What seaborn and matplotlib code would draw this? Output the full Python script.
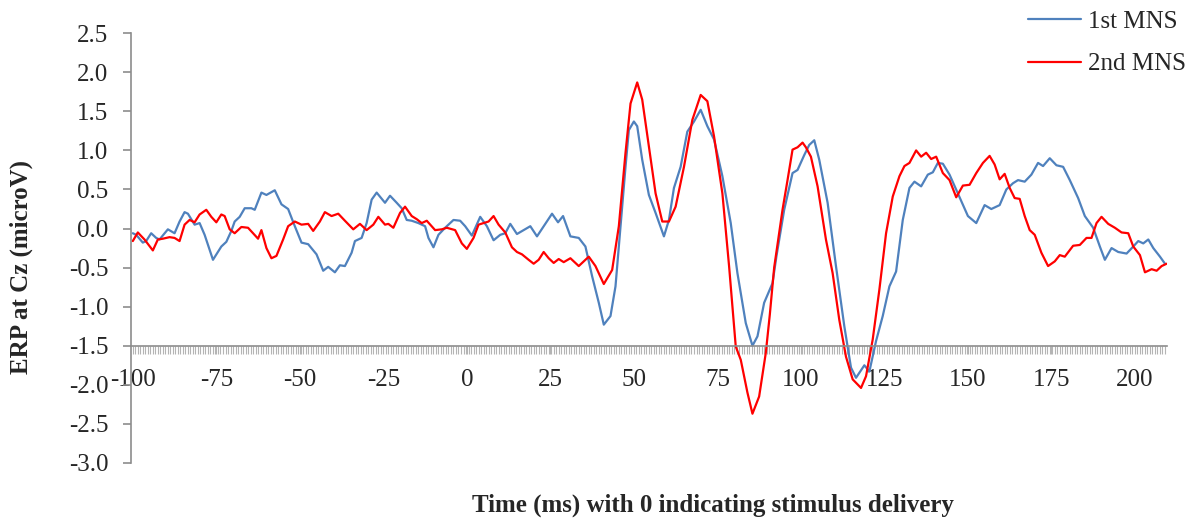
import numpy as np
import pandas as pd
import matplotlib
matplotlib.use('Agg')
import matplotlib.pyplot as plt
import seaborn as sns

# ERP traces (time in ms, amplitude in microV)
first_t = [-100, -99, -97, -96, -94.5, -93, -92, -89.5, -87.5, -86, -84.5, -83.5, -81.5, -80, -78.5,
           -76, -73.5, -72, -70.5, -69.5, -68, -66.5, -64.5, -63.5, -61.5, -60, -57.5, -55.5, -53.5,
           -51.5, -49.5, -47.5, -45, -43, -41.5, -39.5, -38, -36.5, -34.5, -33.5, -31.5, -30, -28.5,
           -27, -24.5, -23, -21, -19.5, -18, -16.5, -14.5, -12.5, -11.5, -10, -8.5, -6.5, -4, -2,
           -0.5, 1.5, 4, 6, 8, 10, 11.5, 13, 15, 17, 19, 21, 23, 25.5, 27.3, 28.8, 31, 33.5, 35.5,
           37.5, 39.5, 41, 43, 44.5, 46, 47.5, 48.5, 50, 51, 52.5, 54.5, 56.5, 59, 60.5, 62, 64, 66,
           68, 70, 72, 74, 76.5, 79, 81, 83.5, 85.5, 87, 89, 90.5, 91.5, 92.7, 95, 97.5, 99, 101,
           102.5, 104, 105.5, 108, 110.5, 113, 115, 116.5, 119, 120.5, 122.5, 124.5, 126.5, 128.5,
           130.5, 132.5, 134, 136, 138, 139.5, 141, 142.5, 144.5, 147, 150, 152.5, 155, 157, 159.5,
           161.5, 163.5, 165, 167, 169, 171, 172.5, 174.5, 176.5, 178.5, 180.5, 183, 185, 187.5,
           189.5, 191, 193, 195, 197.5, 199.5, 201, 202.5, 204, 205.5, 207.5, 209]
first_v = [-0.06, -0.08, -0.18, -0.16, -0.06, -0.12, -0.14, -0.01, -0.06, 0.09, 0.21, 0.19, 0.05, 0.07, -0.08,
           -0.40, -0.23, -0.17, -0.03, 0.09, 0.15, 0.26, 0.26, 0.24, 0.46, 0.43, 0.49, 0.31, 0.25,
           0.03, -0.18, -0.20, -0.33, -0.54, -0.49, -0.56, -0.47, -0.48, -0.31, -0.16, -0.12, 0.07, 0.37,
           0.46, 0.33, 0.42, 0.33, 0.26, 0.11, 0.10, 0.07, 0.03, -0.12, -0.24, -0.08, 0.01, 0.11, 0.10,
           0.03, -0.09, 0.15, 0.03, -0.15, -0.08, -0.06, 0.06, -0.07, -0.02, 0.03, -0.10, 0.03, 0.19, 0.08, 0.16, -0.10, -0.12, -0.23,
           -0.61, -0.95, -1.23, -1.12, -0.74, 0.03, 0.79, 1.26, 1.37, 1.31, 0.88, 0.43, 0.20, -0.10, 0.11, 0.52, 0.79, 1.24,
           1.37, 1.52, 1.31, 1.14, 0.67, 0.07, -0.57, -1.21, -1.50, -1.38, -0.95, -0.80, -0.70, -0.35, 0.24, 0.71, 0.75, 0.94,
           1.07, 1.13, 0.88, 0.33, -0.48, -1.25, -1.78, -1.91, -1.75, -1.83, -1.44, -1.12, -0.74, -0.55,
           0.11, 0.52, 0.60, 0.54, 0.69, 0.72, 0.84, 0.83, 0.69, 0.45, 0.16, 0.07, 0.30, 0.25, 0.30,
           0.50, 0.58, 0.62, 0.60, 0.69, 0.84, 0.80, 0.90, 0.81, 0.79, 0.62, 0.39, 0.16, 0.01,
           -0.23, -0.40, -0.25, -0.30, -0.32, -0.23, -0.16, -0.19, -0.14, -0.25, -0.36, -0.45]

second_t = [-100, -98.5, -96.5, -94, -92.5, -91, -89, -87.5, -86, -84.5, -83, -81.5, -80, -78, -76.5,
            -75, -73.5, -72.5, -71, -69.5, -67.5, -65.5, -64, -62.5, -61.5, -60, -58.5, -57, -55,
            -53.5, -51.5, -49.5, -47.5, -46, -44, -42.5, -40.5, -38.5, -36.5, -34, -32, -30, -28,
            -26.5, -24.5, -23.5, -22, -20, -18.5, -16.5, -15, -13.5, -12, -9.5, -7.5, -6, -3.5, -1.5,
            0, 2, 3.5, 5, 6.5, 8, 9.5, 11.5, 13.5, 15, 16.5, 18.5, 20, 21.5, 23, 24.5, 26, 27.5, 29,
            31, 33.5, 36.5, 38.5, 41, 43.5, 45.5, 47.5, 49, 51, 52.5, 54.5, 56.5, 58.5, 60.5, 62.5,
            65, 67.5, 70, 72, 74, 76.5, 78.5, 80.5, 82, 84, 85.5, 87.5, 89.5, 90.7, 92, 94.5, 96,
            97.5, 99, 100.5, 101.5, 103, 105, 107.5, 109.5, 111.5, 113.5, 115.5, 118, 119.5, 121.5,
            123.5, 125.5, 127.5, 129.5, 131, 132.5, 134.5, 136, 137.5, 139, 140.5, 142.5, 144.5,
            146.5, 148.5, 150.5, 152.5, 154.5, 156.5, 158, 159.5, 161, 162.5, 164, 165.5, 167,
            168.5, 170, 172, 174, 176, 177.5, 179, 181.5, 183.5, 185.5, 187, 188.5, 190, 192, 194,
            196, 198, 199.5, 201.5, 203, 205, 206.5, 208, 209.5]
second_v = [-0.16, -0.05, -0.14, -0.28, -0.14, -0.13, -0.11, -0.12, -0.16, 0.05, 0.11, 0.08, 0.18, 0.24, 0.15,
            0.08, 0.18, 0.16, -0.01, -0.06, 0.02, 0.01, -0.06, -0.13, -0.02, -0.25, -0.38, -0.35, -0.14,
            0.03, 0.09, 0.05, 0.06, -0.03, 0.09, 0.21, 0.16, 0.19, 0.10, -0.01, 0.06, -0.02, 0.05,
            0.15, 0.05, 0.06, 0.01, 0.20, 0.28, 0.16, 0.12, 0.07, 0.10, -0.02, -0.01, 0.01, -0.02, -0.19,
            -0.26, -0.12, 0.05, 0.07, 0.09, 0.16, 0.05, -0.05, -0.24, -0.30, -0.33, -0.40, -0.45, -0.40, -0.30, -0.38, -0.44, -0.39, -0.43,
            -0.38, -0.48, -0.36, -0.48, -0.71, -0.53, 0.03, 0.97, 1.60, 1.87, 1.65, 1.05, 0.45, 0.09, 0.09, 0.28,
            0.79, 1.39, 1.71, 1.63, 1.18, 0.45, -0.48, -1.51, -1.68, -2.10, -2.37, -2.15, -1.59, -1.10, -0.50, 0.24, 0.62,
            1.01, 1.04, 1.10, 1.04, 0.92, 0.54, -0.14, -0.57, -1.17, -1.64, -1.93, -2.04, -1.89, -1.42,
            -0.78, -0.06, 0.41, 0.67, 0.80, 0.84, 1.00, 0.92, 0.97, 0.89, 0.92, 0.71, 0.62,
            0.40, 0.55, 0.56, 0.71, 0.84, 0.93, 0.82, 0.63, 0.70, 0.52, 0.39, 0.38, 0.16,
            -0.02, -0.08, -0.31, -0.48, -0.42, -0.34, -0.36, -0.22, -0.21, -0.12, -0.12, 0.07, 0.15, 0.06, 0.01,
            -0.05, -0.06, -0.23, -0.34, -0.56, -0.52, -0.54, -0.48, -0.45]

series_names = ['1st MNS', '2nd MNS']
series_colors = ['#4F81BD', '#FF0000']
x_ticks = [-100, -75, -50, -25, 0, 25, 50, 75, 100, 125, 150, 175, 200]
y_ticks = [-3.0, -2.5, -2.0, -1.5, -1.0, -0.5, 0.0, 0.5, 1.0, 1.5, 2.0, 2.5]

df = pd.concat([
    pd.DataFrame({'Time': first_t, 'ERP': first_v, 'Series': series_names[0]}),
    pd.DataFrame({'Time': second_t, 'ERP': second_v, 'Series': series_names[1]}),
])

sns.set_style('white')
plt.rcParams['font.family'] = ['Liberation Serif', 'DejaVu Serif']

fig = plt.figure(figsize=(12, 5.19), dpi=100)
ax = fig.add_axes([0.109, 0.108, 0.8635, 0.828])

sns.lineplot(data=df, x='Time', y='ERP', hue='Series', palette=dict(zip(series_names, series_colors)),
             estimator=None, linewidth=1.6, ax=ax)

ax.set_xlim(-100.6, 209.6)
ax.set_ylim(-3.0, 2.5)

axis_grey = '#8c8c8c'
for s in ['top', 'right']:
    ax.spines[s].set_visible(False)
ax.spines['left'].set_color(axis_grey)
ax.spines['bottom'].set_color(axis_grey)
ax.spines['left'].set_linewidth(1.2)
ax.spines['bottom'].set_linewidth(1.2)
ax.spines['bottom'].set_position(('data', -1.5))

ax.set_yticks(y_ticks)
ax.set_yticklabels([f'{v:.1f}' for v in y_ticks])
ax.set_xticks(x_ticks)
ax.set_xticklabels([str(v) for v in x_ticks])
# dense category ticks along the axis
ax.set_xticks(np.arange(-100, 209.6, 0.75), minor=True)

ax.tick_params(axis='y', direction='out', length=6, width=1.2, color=axis_grey,
               labelsize=18, pad=10, left=True)
ax.tick_params(axis='x', which='both', direction='out', length=6, width=0.8, color='#b4b4b4',
               labelsize=18, pad=10.5, bottom=True)

ax.set_xlabel('Time (ms) with 0 indicating stimulus delivery', fontsize=18, fontweight='bold')
ax.xaxis.set_label_coords(713 / 1200, 1 - 494 / 519, transform=fig.transFigure)
ax.set_ylabel('ERP at Cz (microV)', fontsize=18, fontweight='bold')
ax.yaxis.set_label_coords(33 / 1200, 1 - 267 / 519, transform=fig.transFigure)

handles, labels = ax.get_legend_handles_labels()
ax.legend(handles, labels, loc='upper left', bbox_to_anchor=(1028 / 1200, 1 - 10 / 519),
          bbox_transform=fig.transFigure, frameon=False, fontsize=18, handlelength=2.1,
          handletextpad=0.3, labelspacing=0.82, borderpad=0, borderaxespad=0)

fig.savefig('out.png', dpi=100)
